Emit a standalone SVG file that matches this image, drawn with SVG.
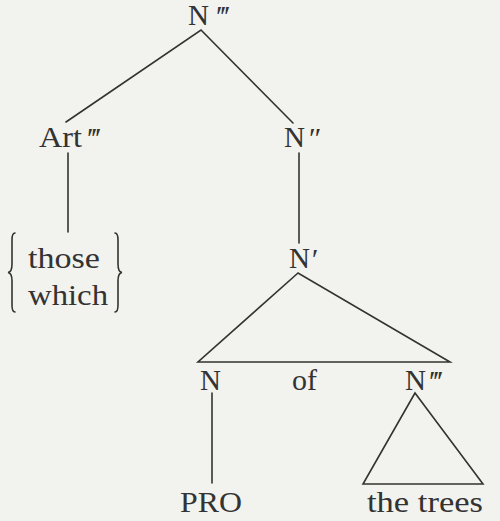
<svg xmlns="http://www.w3.org/2000/svg" width="500" height="521" viewBox="0 0 500 521">
  <style>
    .lbl { font-family: "Liberation Serif", "DejaVu Serif", serif; font-size: 29px; fill: #333; }
    .pr { font-family: "Liberation Serif", "DejaVu Serif", serif; font-size: 30px; font-style: italic; fill: #333; }
    .edge { stroke: #333; stroke-width: 1.6; fill: none; stroke-linecap: round; stroke-linejoin: miter; }
  </style>
  <rect width="500" height="521" fill="#f2f2ee"/>

  <g id="connectors">
    <path class="edge" d="M66,122 L201,30 L293,123"/>
    <line class="edge" x1="68" y1="153" x2="68" y2="232"/>
    <line class="edge" x1="299" y1="153" x2="299" y2="243"/>
    <path class="edge" d="M298,273 L198,362 L450,362 Z"/>
    <line class="edge" x1="212" y1="393" x2="212" y2="483"/>
    <path class="edge" d="M415,393 L363,484 L483,484 Z"/>
  </g>

  <g id="n3-root">
    <text class="lbl" x="188" y="25" textLength="21" lengthAdjust="spacingAndGlyphs">N</text>
    <text class="pr" x="215" y="26">‴</text>
  </g>

  <g id="art3">
    <text class="lbl" x="39" y="147" textLength="43" lengthAdjust="spacingAndGlyphs">Art</text>
    <text class="pr" x="86" y="148">‴</text>
  </g>

  <g id="those-which">
    <path class="edge" d="M15,233 Q12,233 12,240 L12,264 Q12,272 8,272.5 Q12,273 12,281 L12,305 Q12,312 15,312"/>
    <text class="lbl" x="28" y="268" textLength="72" lengthAdjust="spacingAndGlyphs">those</text>
    <text class="lbl" x="28" y="305" textLength="80" lengthAdjust="spacingAndGlyphs">which</text>
    <path class="edge" d="M115,233 Q118,233 118,240 L118,264 Q118,272 122,272.5 Q118,273 118,281 L118,305 Q118,312 115,312"/>
  </g>

  <g id="n2">
    <text class="lbl" x="284" y="147" textLength="21" lengthAdjust="spacingAndGlyphs">N</text>
    <text class="pr" x="307" y="148">″</text>
  </g>

  <g id="n1">
    <text class="lbl" x="289" y="268" textLength="21" lengthAdjust="spacingAndGlyphs">N</text>
    <text class="pr" x="310" y="269">′</text>
  </g>

  <g id="n0">
    <text class="lbl" x="200" y="390" textLength="21" lengthAdjust="spacingAndGlyphs">N</text>
  </g>

  <g id="of">
    <text class="lbl" x="292" y="390" textLength="25" lengthAdjust="spacingAndGlyphs">of</text>
  </g>

  <g id="n3-obj">
    <text class="lbl" x="405" y="390" textLength="21" lengthAdjust="spacingAndGlyphs">N</text>
    <text class="pr" x="428" y="391">‴</text>
  </g>

  <g id="pro">
    <text class="lbl" x="180" y="512" textLength="62" lengthAdjust="spacingAndGlyphs">PRO</text>
  </g>

  <g id="the-trees">
    <text class="lbl" x="367" y="512" textLength="116" lengthAdjust="spacingAndGlyphs">the trees</text>
  </g>
</svg>
